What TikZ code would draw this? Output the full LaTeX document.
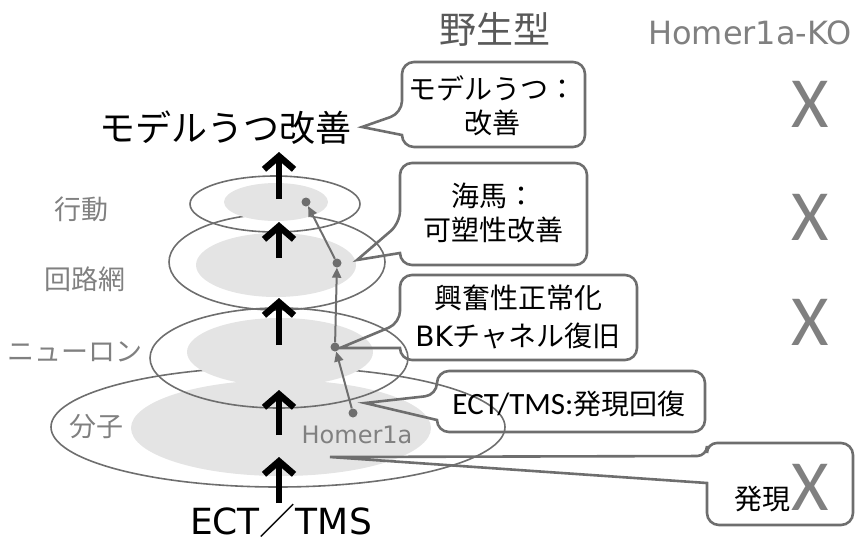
\documentclass[tikz,border=0pt]{standalone}
\usepackage{fontspec}
\setmainfont{Noto Sans CJK JP}
\newfontfamily\latinfont{DejaVu Sans}
\newfontfamily\calfont{Carlito}
\usetikzlibrary{arrows.meta}

\definecolor{linegray}{HTML}{6E6E6E}
\definecolor{textgray}{HTML}{808080}
\definecolor{headgray}{HTML}{595959}
\definecolor{coregray}{HTML}{E4E4E4}

\begin{document}
\begin{tikzpicture}[x=1pt, y=-1pt,
    ring/.style={draw=linegray, line width=1.6pt},
    core/.style={fill=coregray},
    bigarrow/.style={line width=6.5pt, -{Straight Barb[length=13pt, width=30pt]}},
    link/.style={draw=linegray, line width=2pt, -{Triangle[length=10pt, width=9pt]}},
    dot/.style={circle, fill=linegray, inner sep=0pt, minimum size=9pt},
    callout/.style={draw=linegray, line width=2.6pt, rounded corners=12pt},
    level/.style={text=textgray, font=\fontsize{27}{30}\selectfont},
    note/.style={align=center, inner sep=0pt, font=\fontsize{28}{34}\selectfont},
    cross/.style={text=textgray, anchor=base, inner sep=0pt, font=\calfont\fontsize{72}{72}\selectfont}
  ]
  \useasboundingbox (0,0) rectangle (856,541);

  % the four levels, from the bottom up
  \foreach \cx/\cy/\rx/\ry/\gx/\gy/\gr/\gs in {278/427/227/60/281/428/150/48,
      279/358/129/50/280/352/93/34, 277/262/108/48/276/265/80/32,
      275/204/85/28/276/202/52/19}{
    \draw[ring] (\cx,\cy) ellipse [x radius=\rx pt, y radius=\ry pt];
    \fill[core] (\gx,\gy) ellipse [x radius=\gr pt, y radius=\gs pt];
  }

  \node[level] (behav) at (81,209) {行動};
  \node[level] (circuit) at (85,279) {回路網};
  \node[level] (neuron) at (75,352) {ニューロン};
  \node[level] (molec) at (96,427) {分子};

  \node (goal) at (225,128) {\fontsize{36}{36}\selectfont モデルうつ改善};
  \node[anchor=base, inner sep=0pt] (stim) at (281,534)
    {\fontsize{36}{36}\selectfont{\latinfont ECT}／{\latinfont TMS}};
  \node[text=textgray, anchor=base, inner sep=0pt] (homer) at (357,443)
    {\latinfont\fontsize{24}{24}\selectfont Homer1a};

  \foreach \i/\lo/\hi in {1/503/457, 2/435/390, 3/345/298, 4/258/222, 5/199/152}{
    \coordinate (tail\i) at (279,\lo);
    \coordinate (head\i) at (279,\hi);
    \draw[bigarrow] (tail\i) -- (head\i);
  }

  \node[dot] (d1) at (306,202) {};
  \node[dot] (d2) at (337,263) {};
  \node[dot] (d3) at (335,347) {};
  \node[dot] (d4) at (353,413) {};
  \draw[link] (d4) -- (d3);
  \draw[link] (d3) -- (d2);
  \draw[link] (d2) -- (d1);

  % column heads
  \node[text=headgray] (wild) at (495,29) {\fontsize{37}{37}\selectfont 野生型};
  \node[text=textgray, anchor=base, inner sep=0pt] (ko) at (750,44)
    {\latinfont\fontsize{32}{32}\selectfont Homer1a-KO};

  % callouts
  \draw[callout] (493,62) -- (402,62) -- (402,113) [sharp corners] -- (362,127)
    -- (402,135) [rounded corners=12pt] -- (402,147) -- (585,147) -- (585,62) -- cycle;
  \draw[callout] (493,163) -- (400,163) -- (400,223) [sharp corners] -- (357,260)
    -- (400,253) [rounded corners=12pt] -- (400,265) -- (587,265) -- (587,163) -- cycle;
  \draw[callout] (518,275) -- (400,275) -- (400,323) [sharp corners] -- (340,348)
    -- (400,348) [rounded corners=12pt] -- (400,360) -- (637,360) -- (637,275) -- cycle;
  \draw[callout] (571,371) -- (437,371) -- (437,395) [sharp corners] -- (365,403)
    -- (437,420) [rounded corners=12pt] -- (437,432) -- (705,432) -- (705,371) -- cycle;
  \draw[callout] (780,443) [rounded corners=10pt] -- (707,443) -- (707,456) [sharp corners]
    -- (330,457) -- (707,483) [rounded corners=12pt] -- (707,525) -- (853,525) -- (853,443) -- cycle;

  \node[note] (n1) at (492,106) {モデルうつ：\\改善};
  \node[note] (n2) at (493,213) {海馬：\\可塑性改善};
  \node[note, font=\fontsize{28}{38}\selectfont] (n3) at (518,317)
    {興奮性正常化\\{\latinfont BK}チャネル復旧};
  \node[note] (n4) at (569,404) {{\calfont\fontsize{31}{31}\selectfont ECT/TMS:}発現回復};
  \node[note] (n5) at (762,499) {発現};

  \node[cross] (x1) at (810,127) {X};
  \node[cross] (x2) at (810,240) {X};
  \node[cross] (x3) at (810,345) {X};
  \node[cross] (x4) at (810,510) {X};
\end{tikzpicture}
\end{document}
